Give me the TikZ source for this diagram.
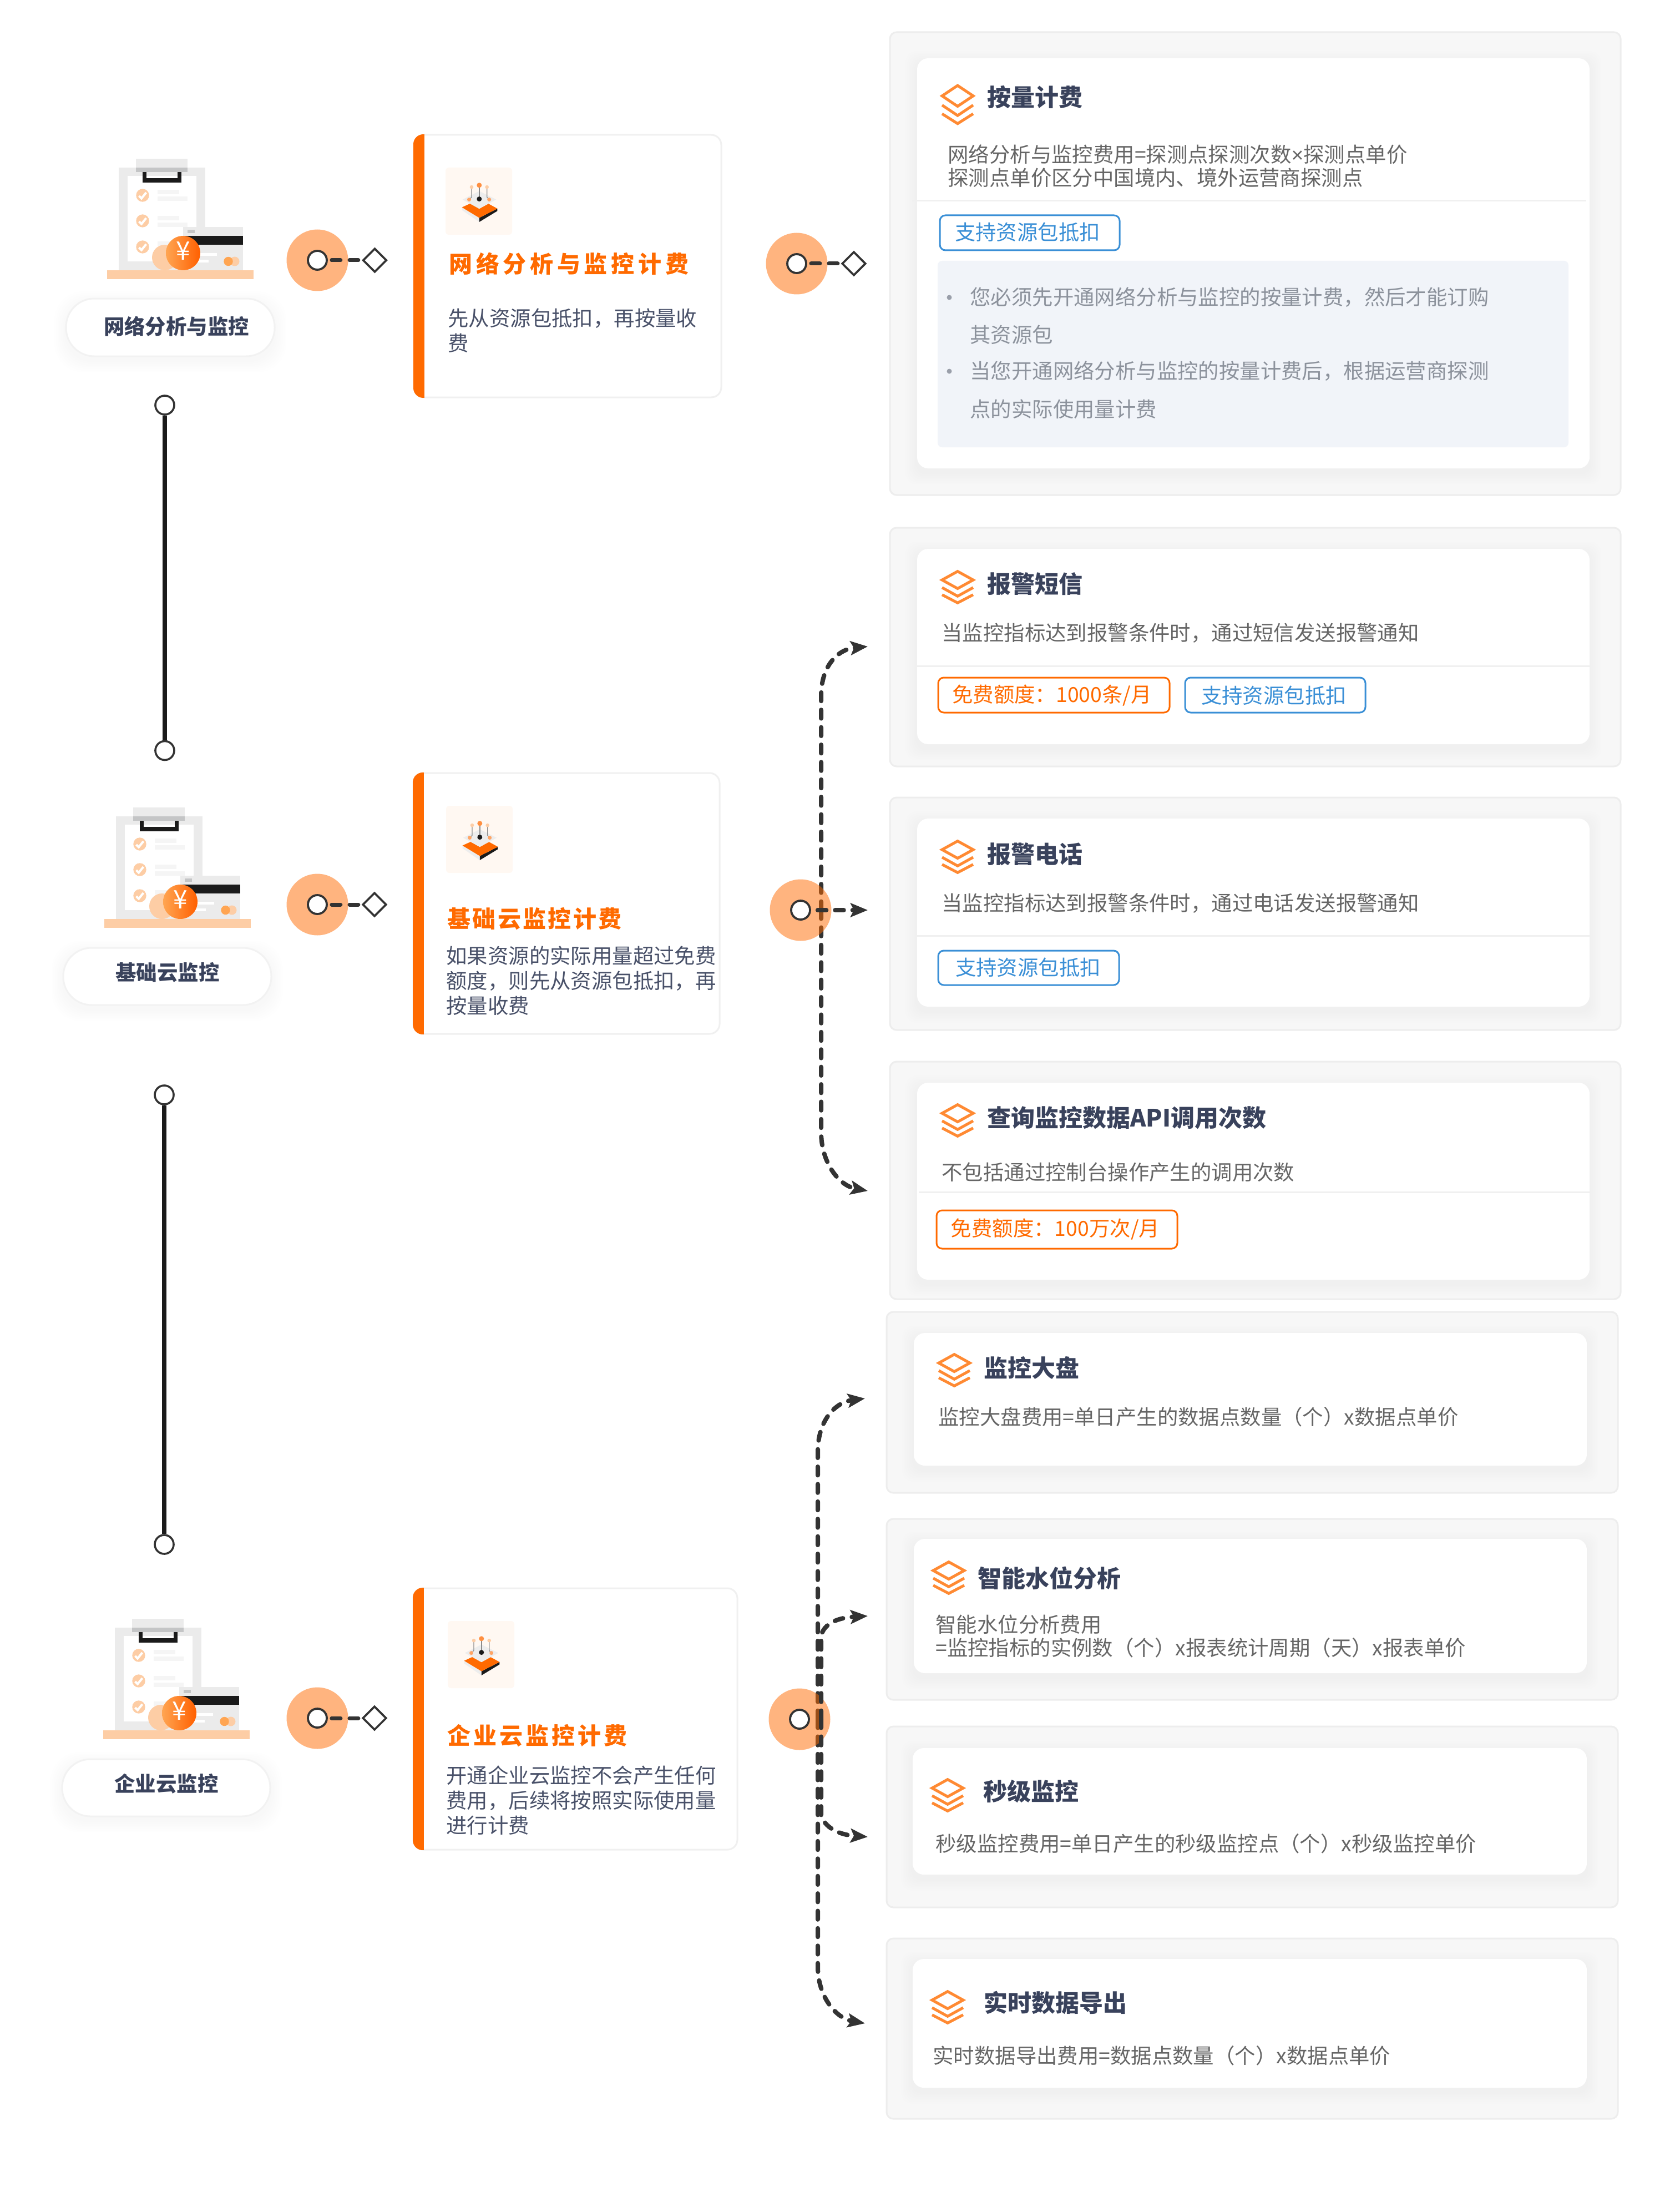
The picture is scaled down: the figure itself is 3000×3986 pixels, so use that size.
\documentclass[tikz,border=0pt]{standalone}
\usepackage{fontspec}
\setmainfont{Noto Sans CJK SC}
\newfontfamily\latinmark{Liberation Sans}
\usetikzlibrary{arrows.meta,shapes.geometric}
\definecolor{ink}{HTML}{39425C}
\definecolor{body}{HTML}{666666}
\definecolor{soft}{HTML}{8C929C}
\definecolor{orng}{HTML}{FF6A00}
\definecolor{blu}{HTML}{3A8FD6}
\definecolor{flowc}{HTML}{333333}
\definecolor{pale}{HTML}{FDCDA5}
\definecolor{lgray}{HTML}{EBEBEB}
\definecolor{mgray}{HTML}{C4C5C6}
\definecolor{blk}{HTML}{1A1A1A}
\definecolor{layerc}{HTML}{FF8A33}
\definecolor{notebg}{HTML}{F1F4F9}
\definecolor{bulletc}{HTML}{9A9FAA}
\definecolor{HTMLorange}{HTML}{FFA552}
\tikzset{
 x=0.5pt,y=-0.5pt,
 pilltext/.style={inner sep=0pt,text=ink,font=\fontsize{18.7pt}{21.5pt}\selectfont\bfseries},
 cardbody/.style={anchor=west,inner sep=0pt,align=left,text=ink!92,font=\fontsize{18.7pt}{22.5pt}\selectfont},
 cardtitle/.style={anchor=west,inner sep=0pt,text=orng,font=\fontsize{21pt}{24pt}\selectfont\bfseries},
 paneltitle/.style={anchor=west,inner sep=0pt,text=ink,font=\fontsize{21.5pt}{24pt}\selectfont\bfseries},
 panelbody/.style={anchor=west,inner sep=0pt,align=left,text=body,font=\fontsize{18.7pt}{21pt}\selectfont},
 softtext/.style={anchor=west,inner sep=0pt,text=soft,font=\fontsize{18.7pt}{21pt}\selectfont},
 tagtext/.style={inner sep=0pt,font=\fontsize{18.7pt}{21pt}\selectfont},
 hub/.style={circle,inner sep=0pt,minimum size=55.5pt,fill=orng,fill opacity=.5,draw=none},
 port/.style={circle,inner sep=0pt,minimum size=17pt,fill=white,draw=flowc,line width=1.9pt},
 endd/.style={diamond,aspect=1,inner sep=0pt,minimum width=21.5pt,minimum height=21.5pt,fill=white,draw=flowc,line width=1.8pt},
 shortflow/.style={draw=flowc,line width=3.5pt,line cap=round,dash pattern=on 8pt off 8pt,shorten <=3.5pt},
 flow/.style={draw=flowc,line width=4pt,line cap=round,dash pattern=on 7.7pt off 8pt},
 flowarrow/.style={flow,-{Stealth[length=15.5pt,width=12.5pt,inset=3pt]}},
 spine/.style={draw=blk,line width=3.8pt},
 tipdot/.style={circle,inner sep=0pt,minimum size=17pt,fill=white,draw=flowc,line width=1.8pt},
 divider/.style={draw=black!6,line width=1.5pt},
 tagbox/.style={fill=white,line width=1.5pt,rounded corners=5pt},
}
\newcommand{\softshadow}[5]{%
 \foreach \i in {1,...,7}{\fill[black,opacity=.0055,rounded corners=#5] (#1-\i*3,#2-\i*3+8) rectangle (#3+\i*3,#4+\i*3+8);}}
\newcommand{\panelcard}[8]{%
 \draw[fill=black!3,draw=black!7,line width=1.5pt,rounded corners=6pt] (#1,#2) rectangle (#3,#4);
 \softshadow{#5}{#6}{#7}{#8}{10pt}
 \fill[white,rounded corners=10pt] (#5,#6) rectangle (#7,#8);}
\newcommand{\layers}[3]{%
 \begin{scope}[shift={(#1,#2)},yscale=#3]
 \draw[draw=layerc,line width=2.5pt,miter limit=10] (0,3)--(28,21)--(0,39)--(-28,21)--cycle;
 \draw[draw=layerc,line width=2.5pt,miter limit=10] (-28,37)--(0,55)--(28,37);
 \draw[draw=layerc,line width=2.5pt,miter limit=10] (-28,52)--(0,69)--(28,52);
 \end{scope}}
\newcommand{\billicon}[2]{%
 \begin{scope}[shift={(#1,#2)}]
 \fill[lgray] (214,301) rectangle (370,486);
 \fill[white] (230,316) rectangle (354,470);
 \fill[lgray] (245,285) rectangle (338,301);
 \fill[mgray] (245,301) rectangle (338,309);
 \draw[blk,line width=3.6pt] (260.5,309)--(260.5,324)--(323.5,324)--(323.5,309);
 \foreach \yy in {351,397,444}{
  \fill[pale] (257,\yy) circle (11.7);
  \draw[white,line width=2pt] (250.5,\yy+1)--(255,\yy+5.5)--(263.5,\yy-5);}
 \foreach \yy in {341,388,434}{
  \fill[black!4] (284,\yy) rectangle (323,\yy+8);
  \fill[black!4] (284,\yy+12) rectangle (338,\yy+20);}
 \fill[lgray] (330,408) rectangle (438,486);
 \fill[blk] (330,424) rectangle (438,440);
 \fill[mgray] (338,413) rectangle (351,419);
 \fill[white] (345,455) rectangle (391,460);
 \fill[white] (345,467) rectangle (376,472);
 \fill[pale] (423,470) circle (8.5);
 \fill[HTMLorange] (411.5,470) circle (8.2);
 \fill[pale] (297,463) circle (23);
 \shade[left color=HTMLorange,right color=orng!90!red] (330,455) circle (31);
 \node[inner sep=0pt,text=white,font=\fontsize{23pt}{24pt}\selectfont] (yen#1) at (330,451) {¥};
 \fill[pale] (193,486) rectangle (457,502);
 \end{scope}}
\newcommand{\planicon}[2]{%
 \begin{scope}[shift={(#1,#2)}]
 \fill[orng!5,rounded corners=3pt] (0,0) rectangle (120,121);
 \fill[black!7] (29.6,71.6)--(29.6,76.5)--(60.8,98)--(60.8,90.5)--cycle;
 \fill[blk] (93.4,73.9)--(93.4,78.2)--(60.8,98)--(60.8,90.5)--cycle;
 \fill[orng] (29.6,71.6)--(44.3,64.9)--(60.8,74.2)--(76.9,64.9)--(93.4,73.9)--(60.8,90.5)--cycle;
 \fill[black!7] (30.9,57.6)--(60.8,42.4)--(91.2,57.6)--(60.8,74.2)--cycle;
 \draw[black!45,line width=.7pt] (60.8,31.8)--(60.8,56.6);
 \draw[black!45,line width=.6pt] (47,35.1)--(47,53.3)--(42.5,57.6);
 \draw[black!45,line width=.6pt] (74.7,35.1)--(74.7,53.3)--(78.7,57.6);
 \fill[blk] (60.8,56.6) circle (4.5);
 \fill[orng!75] (60.8,31.8) circle (4.5);
 \fill[pale] (47,35.1) circle (3.3);
 \fill[pale] (74.7,35.1) circle (3.3);
 \fill[orng!60] (42.5,57.6) circle (3.5);
 \fill[orng!60] (78.7,57.6) circle (3.5);
 \end{scope}}
\newcommand{\plancard}[4]{%
 \draw[fill=white,draw=black!6,line width=1.5pt,rounded corners=9pt] (#1,#2) rectangle (#3,#4);
 \begin{scope}
 \clip[rounded corners=9pt] (#1-1,#2-1) rectangle (#3,#4+1);
 \fill[orng] (#1-1,#2-1) rectangle (#1+19,#4+1);
 \end{scope}}
\newcommand{\pillshape}[4]{%
 \softshadow{#1}{#2}{#3}{#4}{26pt}
 \draw[fill=white,draw=black!5,line width=1.5pt,rounded corners=25.5pt] (#1,#2) rectangle (#3,#4);}
\begin{document}
\begin{tikzpicture}
\path[use as bounding box,fill=white] (0,0) rectangle (3000,3986);

% ---- left column spines
\node[tipdot] (a1) at (297,730) {};
\node[tipdot] (b1) at (297,1352.5) {};
\draw[spine] (a1) -- (b1);
\node[tipdot] (a2) at (296,1973) {};
\node[tipdot] (b2) at (296,2783) {};
\draw[spine] (a2) -- (b2);

% ---- illustrations and pills
\billicon{0}{1}
\billicon{-5}{1170}
\billicon{-7}{2632}
\pillshape{119}{538}{495}{642}
\pillshape{114}{1708}{489}{1811}
\pillshape{112}{3170}{487}{3273}
\node[pilltext] (p1) at (318,588.5) {网络分析与监控};
\node[pilltext] (p2) at (302,1752) {基础云监控};
\node[pilltext] (p3) at (300,3214) {企业云监控};

% ---- plan cards
\plancard{746}{243}{1300}{716}
\planicon{803}{302}
\node[cardtitle] (ct1) at (809,475) {\addfontfeature{LetterSpace=16}网络分析与监控计费};
\node[cardbody] (cb1) at (807,596) {先从资源包抵扣，再按量收\\费};
\plancard{745}{1393}{1297}{1863}
\planicon{804}{1452}
\node[cardtitle] (ct2) at (806,1656) {\addfontfeature{LetterSpace=8}基础云监控计费};
\node[cardbody] (cb2) at (804,1767) {如果资源的实际用量超过免费\\额度，则先从资源包抵扣，再\\按量收费};
\plancard{745}{2862}{1329}{3333}
\planicon{807}{2921}
\node[cardtitle] (ct3) at (806,3128) {\addfontfeature{LetterSpace=12}企业云监控计费};
\node[cardbody] (cb3) at (804,3244) {开通企业云监控不会产生任何\\费用，后续将按照实际使用量\\进行计费};

% ---- hubs left
\node[hub] (h1) at (572,469) {};
\node[port] (s1) at (572,469) {};
\node[endd] (d1) at (675.5,469) {};
\draw[shortflow] (s1) -- (d1);
\node[hub] (h2) at (572,1630) {};
\node[port] (s2) at (572,1630) {};
\node[endd] (d2) at (675,1630) {};
\draw[shortflow] (s2) -- (d2);
\node[hub] (h3) at (572,3096) {};
\node[port] (s3) at (572,3096) {};
\node[endd] (d3) at (675,3096) {};
\draw[shortflow] (s3) -- (d3);

% ---- panels
\panelcard{1604}{58}{2921}{892}{1653}{105}{2865}{844}
\layers{1726}{151}{1.04}
\node[paneltitle] (pt1) at (1779,175) {按量计费};
\node[panelbody] (pb1) at (1708,299) {网络分析与监控费用=探测点探测次数{\latinmark ×}探测点单价\\探测点单价区分中国境内、境外运营商探测点};
\draw[divider] (1644,362) -- (2859,362);
\draw[draw=blu,tagbox] (1694,388) rectangle (2018,451);
\node[tagtext,text=blu] (tg1) at (1852,418) {支持资源包抵扣};
\fill[notebg,rounded corners=4pt] (1690,470) rectangle (2827,806);
\fill[bulletc] (1711,536) circle (4.5);
\fill[bulletc] (1711,669) circle (4.5);
\node[softtext] (sb1) at (1748,536) {您必须先开通网络分析与监控的按量计费，然后才能订购};
\node[softtext] (sb2) at (1748,603) {其资源包};
\node[softtext] (sb3) at (1748,669) {当您开通网络分析与监控的按量计费后，根据运营商探测};
\node[softtext] (sb4) at (1748,737) {点的实际使用量计费};

\panelcard{1604}{951}{2921}{1381}{1653}{989}{2865}{1341}
\layers{1726}{1027}{.86}
\node[paneltitle] (pt2) at (1779,1052) {报警短信};
\node[panelbody] (pb2) at (1697,1141) {当监控指标达到报警条件时，通过短信发送报警通知};
\draw[divider] (1653,1200) -- (2865,1200);
\draw[draw=orng,tagbox] (1691,1221) rectangle (2108,1284);
\node[tagtext,text=orng] (tg2) at (1896,1253.5) {免费额度：1000条/月};
\draw[draw=blu,tagbox] (2136,1221) rectangle (2461,1284);
\node[tagtext,text=blu] (tg3) at (2296,1253.5) {支持资源包抵扣};

\panelcard{1604}{1437}{2921}{1856}{1653}{1475}{2865}{1814}
\layers{1726}{1513}{.86}
\node[paneltitle] (pt3) at (1779,1539) {报警电话};
\node[panelbody] (pb3) at (1697,1628) {当监控指标达到报警条件时，通过电话发送报警通知};
\draw[divider] (1653,1686) -- (2865,1686);
\draw[draw=blu,tagbox] (1691,1713) rectangle (2017,1775);
\node[tagtext,text=blu] (tg4) at (1853,1743.5) {支持资源包抵扣};

\panelcard{1604}{1913}{2921}{2341}{1653}{1951}{2865}{2306}
\layers{1726}{1988}{.86}
\node[paneltitle] (pt4) at (1779,2014) {查询监控数据API调用次数};
\node[panelbody] (pb4) at (1697,2112) {不包括通过控制台操作产生的调用次数};
\draw[divider] (1656,2148) -- (2865,2148);
\draw[draw=orng,tagbox] (1688,2181) rectangle (2122,2250);
\node[tagtext,text=orng] (tg5) at (1902,2215) {免费额度：100万次/月};

\panelcard{1598}{2364}{2916}{2690}{1647}{2402}{2860}{2641}
\layers{1720}{2438}{.86}
\node[paneltitle] (pt5) at (1773,2465) {监控大盘};
\node[panelbody] (pb5) at (1691,2553) {监控大盘费用=单日产生的数据点数量（个）x数据点单价};

\panelcard{1598}{2737}{2916}{3063}{1647}{2773}{2860}{3015}
\layers{1710}{2812}{.86}
\node[paneltitle] (pt6) at (1762,2844) {智能水位分析};
\node[panelbody] (pb6) at (1686,2948) {智能水位分析费用\\=监控指标的实例数（个）x报表统计周期（天）x报表单价};

\panelcard{1598}{3111}{2916}{3437}{1645}{3150}{2860}{3378}
\layers{1708}{3204}{.86}
\node[paneltitle] (pt7) at (1772,3228) {秒级监控};
\node[panelbody] (pb7) at (1686,3322) {秒级监控费用=单日产生的秒级监控点（个）x秒级监控单价};

\panelcard{1598}{3493}{2916}{3818}{1645}{3530}{2860}{3762}
\layers{1708}{3586}{.86}
\node[paneltitle] (pt8) at (1773,3609) {实时数据导出};
\node[panelbody] (pb8) at (1681,3704) {实时数据导出费用=数据点数量（个）x数据点单价};

% ---- middle group connectors
\coordinate (m2) at (1480,1640);
\coordinate (up2) at (1480,1254);
\coordinate (tipa) at (1564,1165);
\coordinate (dn2) at (1480,2040);
\coordinate (tipc) at (1564,2146);
\coordinate (tipb) at (1564,1640);
\draw[flowarrow] (m2) -- (up2) .. controls (1480,1200) and (1510,1170) .. (tipa);
\draw[flowarrow] (m2) -- (dn2) .. controls (1480,2095) and (1512,2136) .. (tipc);
\node[hub] (h4) at (1436,475) {};
\node[port] (s4) at (1436,475) {};
\node[endd] (d4) at (1539,475) {};
\draw[shortflow] (s4) -- (d4);
\node[hub] (h5) at (1443,1640) {};
\node[port] (s5) at (1443,1640) {};
\draw[flowarrow,shorten <=6pt] (s5) -- (tipb);

% ---- lower group connectors
\coordinate (m3) at (1474,3098);
\coordinate (m3b) at (1480,3098);
\coordinate (tipd) at (1559,2520);
\coordinate (tipe) at (1564,2912);
\coordinate (tipf) at (1564,3310);
\coordinate (tipg) at (1559,3646);
\draw[flowarrow] (m3) -- (1474,2616) .. controls (1474,2560) and (1505,2527) .. (tipd);
\draw[flowarrow] (m3) -- (1474,3544) .. controls (1474,3598) and (1507,3637) .. (tipg);
\node[hub] (h6) at (1441,3098) {};
\node[port] (s6) at (1441,3098) {};
\draw[flowarrow] (m3b) -- (1480,2947) .. controls (1486,2925) and (1510,2915) .. (tipe);
\draw[flowarrow] (m3b) -- (1480,3271) .. controls (1486,3292) and (1510,3306) .. (tipf);
\end{tikzpicture}
\end{document}
